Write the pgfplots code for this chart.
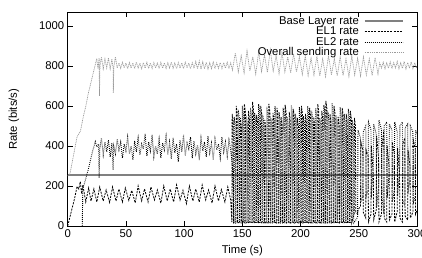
\documentclass[border=0pt]{standalone}
\usepackage{pgfplots}
\pgfplotsset{compat=1.18}
\usepackage{fontspec}
\setmainfont{Liberation Sans}
\definecolor{basegray}{HTML}{808080}
\definecolor{overgray}{HTML}{9A9A9A}
\begin{document}
\begin{tikzpicture}[font=\fontsize{11.3}{13}\selectfont]
\begin{axis}[
  scale only axis,
  width=349.3pt, height=213.7pt,
  xmin=0, xmax=300, ymin=0, ymax=1068,
  xtick={0,50,100,150,200,250,300},
  ytick={0,200,400,600,800,1000},
  /pgf/number format/assume math mode=true,
  /pgf/number format/1000 sep={},
  tick align=inside,
  major tick length=5pt,
  axis line style={line width=0.8pt},
  every tick/.style={line width=0.8pt, black},
  xlabel={Time (s)}, ylabel={Rate (bits/s)},
  every axis x label/.style={at={(rel axis cs:0.5,0)}, anchor=center, yshift=-25pt},
  every axis y label/.style={at={(rel axis cs:0,0.5)}, xshift=-53.7pt, rotate=90, anchor=center},
  legend cell align=right,
  legend plot pos=right,
  legend image code/.code={\draw[#1] (0pt,0pt) -- (38pt,0pt);},
  legend style={draw=none, fill=none, inner sep=0pt, at={(0.962,0.980)}, anchor=north east,
    column sep=5pt, row sep=2pt,
    nodes={inner sep=0pt, text height=7.5pt, text depth=1pt}},
]
\addplot[basegray, line width=1.6pt] coordinates {(0,256) (300,256)};
\addlegendentry{Base Layer rate}
\addplot[black, line width=0.8pt, dash pattern=on 2pt off 1.2pt] coordinates {
(0,0) (3,70) (6,140) (8,197) (9.5,185) (10.8,222) (12,160) (13,205) (15.5,120) (18,190) (20,125) (22.5,185) (25,120) (27.5,195) (30.5,125) (33,180) (36,118) (38.5,195) (41.5,125) (44,185) (47,120) (49.5,190) (52.5,128) (55,178) (58,115) (60.5,200) (63.5,125) (66,185) (69,120) (71.5,195) (74.5,130) (77,180) (80,115) (82.5,200) (85.5,125) (88,185) (91,120) (93.5,205) (96.5,130) (99,178) (102,112) (104.5,200) (107.5,125) (110,185) (113,120) (115.5,205) (118.5,130) (121,180) (124,115) (126.5,200) (129.5,125) (132,182) (135,120) (137.5,195) (140,130)
(141,20)(141.25,560)(142.15,520)(142.4,15)
(144.5,20)(144.75,600)(145.65,560)(145.9,15)
(148,20)(148.25,540)(149.15,500)(149.4,15)
(151.5,20)(151.75,610)(152.65,570)(152.9,15)
(155,20)(155.25,575)(156.15,535)(156.4,15)
(158.5,20)(158.75,620)(159.65,580)(159.9,15)
(162,20)(162.25,555)(163.15,515)(163.4,15)
(165.5,20)(165.75,600)(166.65,560)(166.9,15)
(169,20)(169.25,530)(170.15,490)(170.4,15)
(172.5,20)(172.75,610)(173.65,570)(173.9,15)
(176,20)(176.25,565)(177.15,525)(177.4,15)
(179.5,20)(179.75,590)(180.65,550)(180.9,15)
(183,20)(183.25,545)(184.15,505)(184.4,15)
(186.5,20)(186.75,605)(187.65,565)(187.9,15)
(190,20)(190.25,570)(191.15,530)(191.4,15)
(193.5,20)(193.75,585)(194.65,545)(194.9,15)
(197,20)(197.25,540)(198.15,500)(198.4,15)
(200.5,20)(200.75,600)(201.65,560)(201.9,15)
(204,20)(204.25,560)(205.15,520)(205.4,15)
(207.5,20)(207.75,590)(208.65,550)(208.9,15)
(211,20)(211.25,545)(212.15,505)(212.4,15)
(214.5,20)(214.75,610)(215.65,570)(215.9,15)
(218,20)(218.25,575)(219.15,535)(219.4,15)
(221.5,20)(221.75,625)(222.65,585)(222.9,15)
(225,20)(225.25,560)(226.15,520)(226.4,15)
(228.5,20)(228.75,600)(229.65,560)(229.9,15)
(232,20)(232.25,545)(233.15,505)(233.4,15)
(235.5,20)(235.75,590)(236.65,550)(236.9,15)
(239,20)(239.25,560)(240.15,520)(240.4,15)
(242.5,20)(242.75,575)(243.65,535)(243.9,15)
(246,60)(246.25,540)(247.15,500)(247.4,70)
(249,60)(249.3,80)(251.5,100)(251.8,420)(253.5,380)(253.8,70)(256,40)(256.3,380)(258,350)(258.3,20)(260.5,60)(260.8,400)(262.5,250)(262.8,30)(265,80)(265.3,450)(267,340)(267.3,20)(269.5,60)(269.8,390)(271.5,480)(271.8,40)(274,20)(274.3,400)(276,300)(276.3,30)(278.5,60)(278.8,420)(280.5,360)(280.8,20)(283,70)(283.3,390)(285,260)(285.3,40)(287.5,20)(287.8,410)(289.5,440)(289.8,50)(292,30)(292.3,380)(294,300)(294.3,40)(296.5,70)(296.8,430)(298.5,390)(298.8,60)(300,80)
};
\addlegendentry{EL1 rate}
\addplot[black, line width=0.9pt, dash pattern=on 0.8pt off 1.2pt] coordinates {
(12.5,0) (13,190) (14.5,215) (18,290) (21,365) (23.7,422) (25,395) (26.5,410) (27,240) (27.5,385) (29,440) (30.5,355) (32,420) (33.5,370) (35,430) (36.5,345) (38,415) (39,280) (39.5,400) (41,360) (42.5,435) (44,380) (45.5,420) (47,340) (48.5,410) (50,375) (51.5,445) (53,360) (54.5,400) (56,330) (57.5,425) (59,370) (60.5,440) (62,355) (63.5,410) (65,385) (66.5,460) (68,350) (69.5,420) (71,375) (72.5,455) (74,345) (75.5,400) (77,360) (78.5,435) (80,340) (81.5,415) (83,380) (84.5,450) (86,355) (87.5,420) (89,335) (90.5,440) (92,365) (93.5,410) (95,320) (96.5,430) (98,370) (99.5,455) (101,350) (102.5,415) (104,385) (105.5,445) (107,340) (108.5,425) (110,360) (111.5,405) (113,330) (114.5,440) (116,375) (117.5,420) (119,345) (120.5,450) (122,365) (123.5,415) (125,330) (126.5,435) (128,380) (129.5,410) (131,340) (132.5,445) (134,370) (135.5,420) (137,350) (138.5,430) (140,380) (141.5,300)
(142.75,20)(143,545)(143.9,505)(144.15,15)
(146.25,20)(146.5,580)(147.4,540)(147.65,15)
(149.75,20)(150,600)(150.9,560)(151.15,15)
(153.25,20)(153.5,550)(154.4,510)(154.65,15)
(156.75,20)(157,590)(157.9,550)(158.15,15)
(160.25,20)(160.5,565)(161.4,525)(161.65,15)
(163.75,20)(164,610)(164.9,570)(165.15,15)
(167.25,20)(167.5,555)(168.4,515)(168.65,15)
(170.75,20)(171,595)(171.9,555)(172.15,15)
(174.25,20)(174.5,540)(175.4,500)(175.65,15)
(177.75,20)(178,600)(178.9,560)(179.15,15)
(181.25,20)(181.5,570)(182.4,530)(182.65,15)
(184.75,20)(185,590)(185.9,550)(186.15,15)
(188.25,20)(188.5,545)(189.4,505)(189.65,15)
(191.75,20)(192,605)(192.9,565)(193.15,15)
(195.25,20)(195.5,560)(196.4,520)(196.65,15)
(198.75,20)(199,595)(199.9,555)(200.15,15)
(202.25,20)(202.5,550)(203.4,510)(203.65,15)
(205.75,20)(206,600)(206.9,560)(207.15,15)
(209.25,20)(209.5,575)(210.4,535)(210.65,15)
(212.75,20)(213,590)(213.9,550)(214.15,15)
(216.25,20)(216.5,540)(217.4,500)(217.65,15)
(219.75,20)(220,605)(220.9,565)(221.15,15)
(223.25,20)(223.5,570)(224.4,530)(224.65,15)
(226.75,20)(227,615)(227.9,575)(228.15,15)
(230.25,20)(230.5,555)(231.4,515)(231.65,15)
(233.75,20)(234,595)(234.9,555)(235.15,15)
(237.25,20)(237.5,560)(238.4,520)(238.65,15)
(240.75,20)(241,585)(241.9,545)(242.15,15)
(244.25,20)(244.5,530)(245.4,490)(245.65,15)
(247.5,30)(249,45)(249.3,480)(251.5,440)(251.8,120)(253.5,150)(253.8,470)(256,500)(256.3,150)(258,180)(258.3,520)(260.5,480)(260.8,140)(262.5,300)(262.8,510)(265,460)(265.3,90)(267,200)(267.3,530)(269.5,480)(269.8,150)(271.5,60)(271.8,500)(274,520)(274.3,140)(276,250)(276.3,510)(278.5,480)(278.8,120)(280.5,180)(280.8,520)(283,470)(283.3,150)(285,280)(285.3,500)(287.5,520)(287.8,130)(289.5,100)(289.8,490)(292,510)(292.3,160)(294,240)(294.3,500)(296.5,470)(296.8,110)(298.5,150)(298.8,480)(300,460)
};
\addlegendentry{EL2 rate}
\addplot[overgray, line width=0.7pt, dash pattern=on 1pt off 0.8pt] coordinates {
(0,250) (2,262) (8,445) (11,475) (13.4,547) (15.5,597) (17.7,663) (25,838) (26,785) (27,840) (27.3,650) (27.7,800) (29,845) (30.5,785) (32,835) (33.5,790) (35,840) (36.5,785) (38,835) (39,790) (39.2,665) (39.6,795) (41,845) (42.5,790)
(44,815) (45.5,788) (47,818) (48.5,790) (50,814) (51.5,786) (53,817) (54.5,789) (56,815) (57.5,787) (59,819) (60.5,790) (62,814) (63.5,786) (65,816) (66.5,789) (68,818) (69.5,788) (71,815) (72.5,787) (74,817) (75.5,790) (77,814) (78.5,786) (80,818) (81.5,789) (83,815) (84.5,787) (86,816) (87.5,790) (89,819) (90.5,788) (92,814) (93.5,786) (95,817) (96.5,789) (98,815) (99.5,787) (101,818) (102.5,790) (104,814) (105.5,786) (107,816) (108.5,788) (110,822) (111.5,785) (113,825) (114.5,784) (116,820) (117.5,786) (119,818) (120.5,785) (122,816) (123.5,787) (125,819) (126.5,786) (128,815) (129.5,788) (131,817) (132.5,787) (134,816) (135.5,789) (137,818) (138.5,786) (140,815) (141.5,780)
(144,865) (146.5,770) (149,850) (151.5,765) (154,875) (156.5,775) (159,845) (161.5,760) (164,870) (166.5,772) (169,855) (171.5,768) (174,880) (176.5,775) (179,850) (181.5,762) (184,868) (186.5,770) (189,845) (191.5,765) (194,860) (196.5,770) (199,845) (201.5,758) (204,850) (206.5,752) (209,838) (211.5,755) (214,848) (216.5,750) (219,835) (221.5,748) (224,852) (226.5,755) (229,836) (231.5,750) (234,845) (236.5,752) (239,835) (241.5,748) (244,850) (246.5,755) (249,838) (251.5,750) (254,845) (256.5,755) (259,835) (261.5,752) (264,842) (266.5,760) (268,815)
(269.5,790) (271,818) (272.5,786) (274,815) (275.5,789) (277,820) (278.5,787) (280,816) (281.5,790) (283,822) (284.5,786) (286,815) (287.5,788) (289,823) (290.5,785) (292,817) (293.5,789) (295,820) (296.5,786) (298,816) (299.5,790) (300,800)
};
\addlegendentry{Overall sending rate}
\end{axis}
\pgfresetboundingbox
\useasboundingbox (current axis.south west) ++(-67.7pt,-31pt) rectangle ++(422pt,257pt);
\end{tikzpicture}
\end{document}
